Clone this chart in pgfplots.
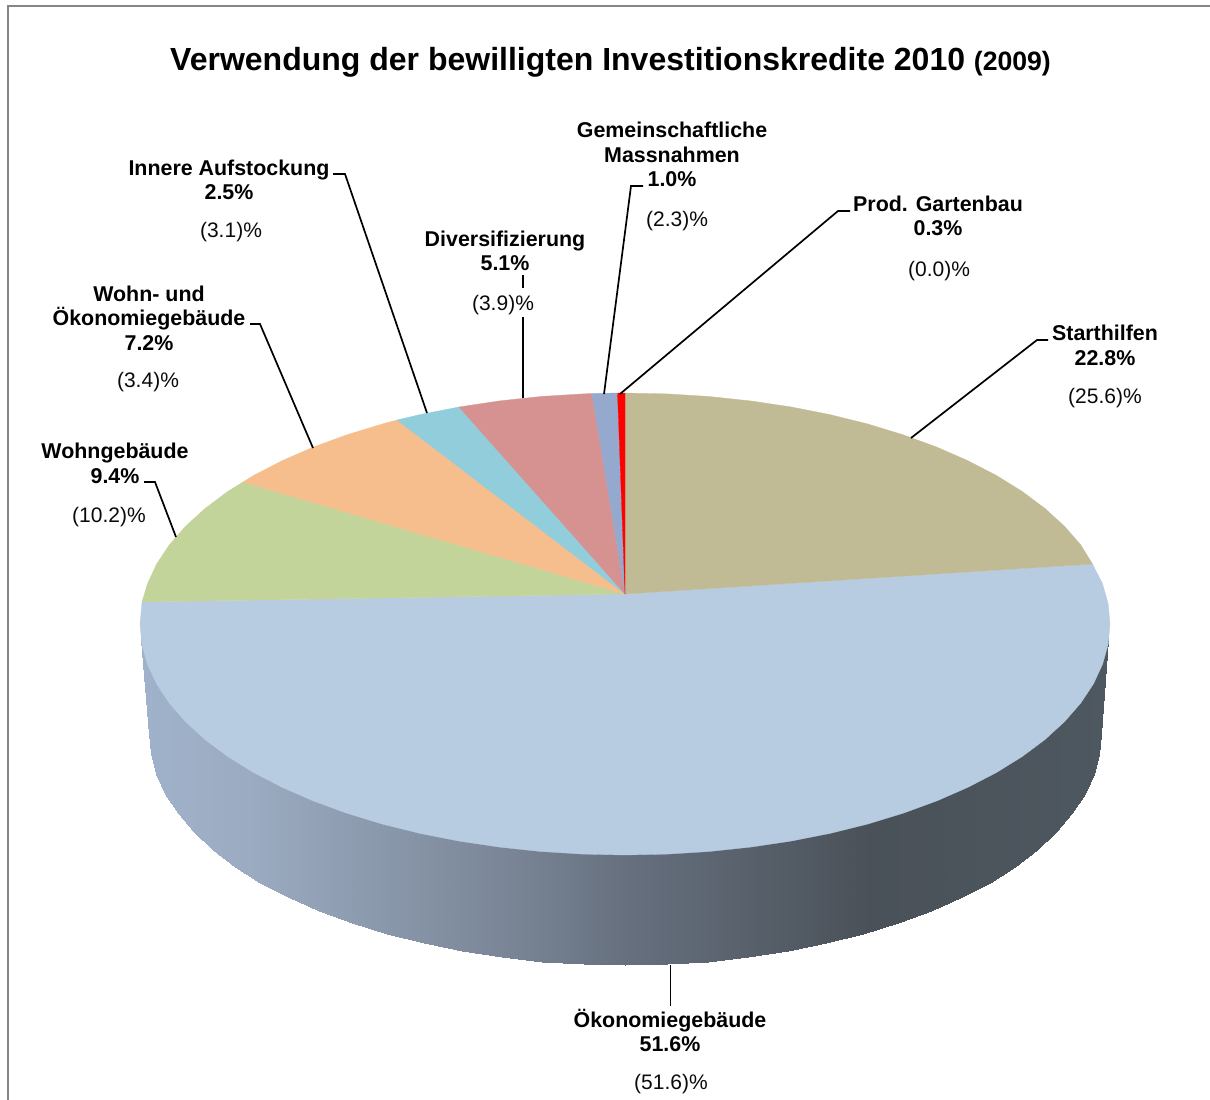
\documentclass[border=0pt]{standalone}
\usepackage{pgfplots}
\pgfplotsset{compat=1.18}
\usepackage{fontspec}
\setmainfont{Liberation Sans}
\definecolor{cStart}{HTML}{C1BB95}
\definecolor{cOek}{HTML}{B8CCE1}
\definecolor{cWohn}{HTML}{C3D49A}
\definecolor{cWoOek}{HTML}{F7BE8D}
\definecolor{cInn}{HTML}{92CDDC}
\definecolor{cDiv}{HTML}{D59291}
\definecolor{cGem}{HTML}{95A9CF}
\definecolor{cProd}{HTML}{FF0000}
\definecolor{cFrame}{HTML}{868686}
\definecolor{cTxt}{HTML}{0A0A0A}
\pgfplotsset{colormap={side}{rgb255(140)=(160,178,203) rgb255(250)=(155,171,193) rgb255(500)=(123,135,152) rgb255(625)=(102,112,127) rgb255(870)=(74,81,88) rgb255(1110)=(78,88,96)}}
\newcommand{\bl}[3]{\node[anchor=base,inner sep=0pt,text=black] at (axis cs:#1,#2) {\fontsize{21.4}{24}\selectfont\bfseries #3};}
\newcommand{\rl}[3]{\node[anchor=base,inner sep=0pt,text=cTxt] at (axis cs:#1,#2) {\fontsize{21}{24}\selectfont #3};}
\begin{document}
\begin{tikzpicture}
\useasboundingbox (0,0) rectangle (1210pt,1100pt);
\begin{axis}[at={(0,0)},anchor=south west,scale only axis,width=1210pt,height=1100pt,
  xmin=0,xmax=1210,ymin=0,ymax=1100,y dir=reverse,axis lines=none,clip=true,
  colormap name=side,point meta min=140,point meta max=1110]
% frame
\addplot[cFrame,line width=2.8pt] coordinates {(8,1100) (8,6) (1210,6)};
% side wall
\addplot[surf,shader=interp,mesh/rows=2,mesh/cols=39,mesh/ordering=x varies,point meta=x] table {
x y
141 630
149 630
150.8 630
156.2 630
165.2 630
177.7 630
193.6 630
212.8 630
235.1 630
260.4 630
288.4 630
319.0 630
352.0 630
387.0 630
423.8 630
462.2 630
501.8 630
542.4 630
583.5 630
625 630
666.5 630
707.6 630
748.2 630
787.8 630
826.2 630
863.0 630
898.0 630
931.0 630
961.6 630
989.6 630
1014.9 630
1037.2 630
1056.4 630
1072.3 630
1084.8 630
1093.8 630
1099.2 630
1101 630
1108 630
141 640
149 734
150.8 754.1
156.2 774.1
165.2 793.8
177.7 813.0
193.6 831.6
212.8 849.5
235.1 866.5
260.4 882.5
288.4 897.3
319.0 910.9
352.0 923.2
387.0 934.1
423.8 943.4
462.2 951.1
501.8 957.1
542.4 961.5
583.5 964.1
625 965
666.5 964.1
707.6 961.5
748.2 957.1
787.8 951.1
826.2 943.4
863.0 934.1
898.0 923.2
931.0 910.9
961.6 897.3
989.6 882.5
1014.9 866.5
1037.2 849.5
1056.4 831.6
1072.3 813.0
1084.8 793.8
1093.8 774.1
1099.2 754.1
1101 734
1108 640
};
% Oekonomiegebaeude 51.6
\addplot[fill=cOek,draw=cOek,line width=0.3pt] coordinates {(625,594) (1092.5,564) (1102.6,583.9) (1108.2,603.9) (1110,624) (1108.2,644.1) (1102.6,664.1) (1093.5,683.8) (1080.8,703) (1064.6,721.6) (1045,739.5) (1022.3,756.5) (996.5,772.5) (967.9,787.3) (936.8,800.9) (903.2,813.2) (867.5,824.1) (830,833.4) (790.9,841.1) (750.5,847.1) (709.2,851.5) (667.3,854.1) (625,855) (582.7,854.1) (540.8,851.5) (499.5,847.1) (459.1,841.1) (420,833.4) (382.5,824.1) (346.8,813.2) (313.2,800.9) (282.1,787.3) (253.5,772.5) (227.7,756.5) (205,739.5) (185.4,721.6) (169.2,703) (156.5,683.8) (147.4,664.1) (141.8,644.1) (140,624) (142,602) (625,594)};
% Starthilfen 22.8
\addplot[fill=cStart,draw=cStart,line width=0.3pt] coordinates {(625,594) (625,393) (667.3,393.9) (709.2,396.5) (750.5,400.9) (790.9,406.9) (830,414.6) (867.5,423.9) (903.2,434.8) (936.8,447.1) (967.9,460.7) (996.5,475.5) (1022.3,491.5) (1045,508.5) (1064.6,526.4) (1080.8,545) (1092.5,564) (625,594)};
% Wohngebaeude 9.4
\addplot[fill=cWohn,draw=cWohn,line width=0.3pt] coordinates {(625,594) (142,602) (147.4,583.9) (156.5,564.2) (169.2,545) (185.4,526.4) (205,508.5) (227.7,491.5) (243,482) (625,594)};
% Wohn- und Oekonomiegebaeude 7.2
\addplot[fill=cWoOek,draw=cWoOek,line width=0.3pt] coordinates {(625,594) (243,482) (253.5,475.5) (282.1,460.7) (313.2,447.1) (346.8,434.8) (382.5,423.9) (397,420) (625,594)};
% Innere Aufstockung 2.5
\addplot[fill=cInn,draw=cInn,line width=0.3pt] coordinates {(625,594) (397,420) (420,414.6) (459,407) (625,594)};
% Diversifizierung 5.1
\addplot[fill=cDiv,draw=cDiv,line width=0.3pt] coordinates {(625,594) (459,407) (499.5,400.9) (540.8,396.5) (582.7,393.9) (592,393.5) (625,594)};
% Gemeinschaftliche Massnahmen 1.0
\addplot[fill=cGem,draw=cGem,line width=0.3pt] coordinates {(625,594) (592,393.5) (617.5,393) (625,594)};
% Prod. Gartenbau 0.3
\addplot[fill=cProd,draw=cProd,line width=0.3pt] coordinates {(625,594) (617.5,393) (625,393) (625,594)};
% leader lines
\addplot[black,line width=1.7pt] coordinates {(911,438) (1037,340) (1048,340)};
\addplot[black,line width=1.7pt] coordinates {(670.5,965) (670.5,1006)};
\addplot[black,line width=1.7pt] coordinates {(176,537) (155,482) (144,482)};
\addplot[black,line width=1.7pt] coordinates {(313,448) (260,324) (250,324)};
\addplot[black,line width=1.7pt] coordinates {(427,413) (345,174) (333,174)};
\addplot[black,line width=1.7pt] coordinates {(523,398) (523,317)};
\addplot[black,line width=1.7pt] coordinates {(523,275) (523,288)};
\addplot[black,line width=1.7pt] coordinates {(604,394) (631,186) (643,186)};
\addplot[black,line width=1.7pt] coordinates {(620,394) (838,211) (850,211)};
% title
\node[anchor=base west,inner sep=0pt] at (axis cs:170,70) {\fontsize{32}{36}\selectfont\bfseries Verwendung der bewilligten Investitionskredite 2010 {\fontsize{26.6}{30}\selectfont (2009)}};
% labels
\bl{229}{175}{Innere Aufstockung}
\bl{229}{199}{2.5\%}
\rl{231}{237}{(3.1)\%}
\bl{672}{137}{Gemeinschaftliche}
\bl{672}{162}{Massnahmen}
\bl{672}{186}{1.0\%}
\rl{677}{226}{(2.3)\%}
\bl{505}{246}{Diversifizierung}
\bl{505}{270}{5.1\%}
\rl{503}{310}{(3.9)\%}
\bl{149}{301}{Wohn- und}
\bl{149}{325}{Ökonomiegebäude}
\bl{149}{350}{7.2\%}
\rl{148}{387}{(3.4)\%}
\bl{115}{458}{Wohngebäude}
\bl{115}{483}{9.4\%}
\rl{109}{522}{(10.2)\%}
\bl{938}{211}{Prod. Gartenbau}
\bl{938}{235}{0.3\%}
\rl{939}{276}{(0.0)\%}
\bl{1105}{340}{Starthilfen}
\bl{1105}{365}{22.8\%}
\rl{1105}{403}{(25.6)\%}
\bl{670}{1027}{Ökonomiegebäude}
\bl{670}{1051}{51.6\%}
\rl{671}{1089}{(51.6)\%}
\end{axis}
\end{tikzpicture}
\end{document}
